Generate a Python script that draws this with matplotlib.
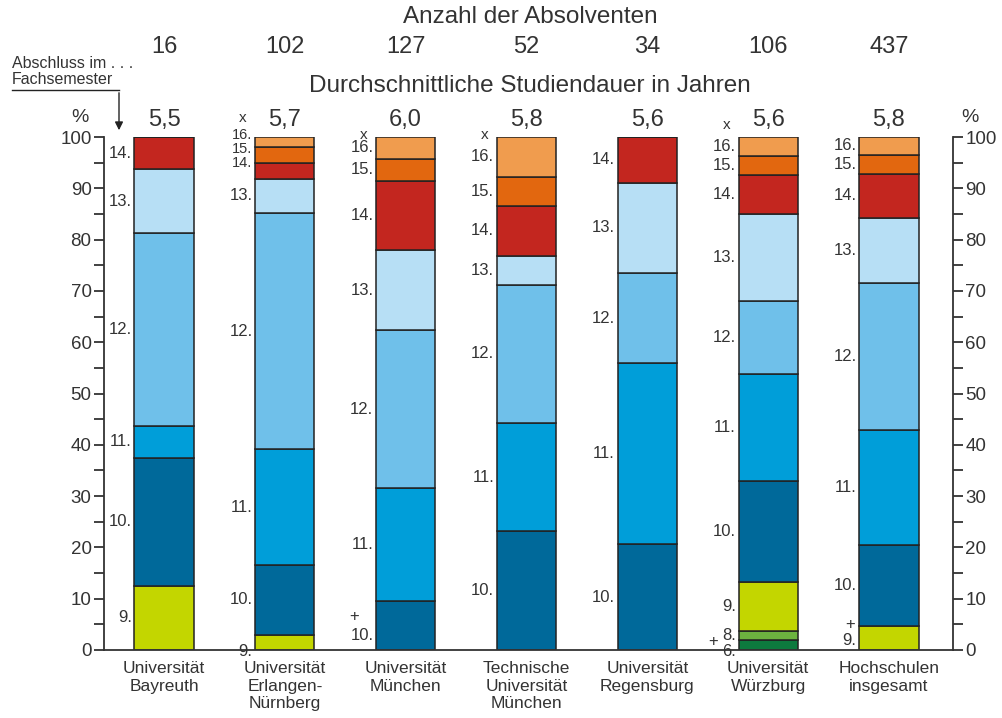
import numpy as np
import matplotlib.pyplot as plt
from matplotlib.transforms import blended_transform_factory

plt.rcParams['font.family'] = ['Liberation Sans', 'DejaVu Sans']

hochschulen = ['Universität\nBayreuth', 'Universität\nErlangen-\nNürnberg', 'Universität\nMünchen',
               'Technische\nUniversität\nMünchen', 'Universität\nRegensburg', 'Universität\nWürzburg',
               'Hochschulen\ninsgesamt']
absolventen = [16, 102, 127, 52, 34, 106, 437]
studiendauer = ['5,5', '5,7', '6,0', '5,8', '5,6', '5,6', '5,8']

# Anteil (%) der Absolventen nach Fachsemester des Abschlusses
semester = [6, 8, 9, 10, 11, 12, 13, 14, 15, 16]
sem6 = [0, 0, 0, 0, 0, 1.9, 0]
sem8 = [0, 0, 0, 0, 0, 1.9, 0]
sem9 = [12.5, 2.9, 0, 0, 0, 9.4, 4.7]
sem10 = [25.0, 13.7, 9.5, 23.1, 20.6, 19.8, 15.7]
sem11 = [6.25, 22.5, 22.0, 21.1, 35.3, 20.8, 22.4]
sem12 = [37.5, 46.1, 30.8, 27.0, 17.6, 14.2, 28.8]
sem13 = [12.5, 6.7, 15.7, 5.7, 17.6, 17.0, 12.6]
sem14 = [6.25, 3.1, 13.4, 9.6, 8.9, 7.5, 8.6]
sem15 = [0, 3.0, 4.4, 5.8, 0, 3.8, 3.7]
sem16 = [0, 2.0, 4.2, 7.7, 0, 3.7, 3.5]
anteile = [sem6, sem8, sem9, sem10, sem11, sem12, sem13, sem14, sem15, sem16]

farben = ['#0d7a3e', '#6cb33f', '#c3d600', '#00699a', '#009ed9',
          '#6fc0ea', '#b7dff5', '#c3261f', '#e2670f', '#f09c4e']

txt = '#333333'
W, H = 1002, 718
fig = plt.figure(figsize=(W / 100, H / 100), dpi=100)
ax = fig.add_axes([104 / W, 1 - 650 / H, (953 - 104) / W, (650 - 137) / H])

x = np.arange(len(hochschulen))
breite = 0.49
unten = np.zeros(len(x))
for sem, werte, farbe in zip(semester, anteile, farben):
    werte = np.array(werte, dtype=float)
    ax.bar(x, werte, breite, bottom=unten, color=farbe, edgecolor='#222222', linewidth=1.1)
    for i in range(len(x)):
        if werte[i] > 0:
            ymid = unten[i] + werte[i] / 2
            fs = 12
            # unterste Beschriftungen bei schmalen Segmenten etwas tiefer
            if unten[i] == 0 and werte[i] < 3:
                ymid = -0.2
            if i == 2 and sem == 10:
                ymid = 2.9
            if i == 6 and sem == 9:
                ymid = 1.9
            if i == 1 and sem >= 14:
                fs = 10.5
                ymid = {14: 95.0, 15: 97.7, 16: 100.4}[sem]
            ax.annotate(f'{sem}.', (x[i] - breite / 2, ymid), xytext=(-2, 0),
                        textcoords='offset points', ha='right', va='center',
                        fontsize=fs, color=txt, annotation_clip=False)
    unten += werte

# Sonderzeichen x und +
for i, yp in [(1, 103.7), (2, 100.4), (3, 100.4), (5, 102.4)]:
    ax.annotate('x', (x[i] - breite / 2, yp), xytext=(-6, 0),
                textcoords='offset points', ha='right', va='center', fontsize=11,
                color=txt, annotation_clip=False)
for i, yp, dx in [(2, 6.6, -12), (5, 1.6, -15), (6, 4.9, -3)]:
    ax.annotate('+', (x[i] - breite / 2, yp), xytext=(dx, 0),
                textcoords='offset points', ha='right', va='center', fontsize=12,
                color=txt, annotation_clip=False)

ax.set_xlim(-0.497, 6.53)
ax.set_ylim(0, 100)
ax.set_xticks(x, hochschulen, fontsize=12.5, color=txt, linespacing=1.2)
ax.tick_params(axis='x', length=0, pad=8)
ax.set_yticks(np.arange(0, 101, 10))
ax.set_yticks(np.arange(5, 100, 10), minor=True)
ax.tick_params(axis='y', which='both', direction='out', length=7, width=1.3,
               labelsize=13.5, labelcolor=txt, color='#333333', right=True, labelright=True, pad=2)
for s in ['left', 'right', 'bottom']:
    ax.spines[s].set_linewidth(1.3)
    ax.spines[s].set_color('#333333')
ax.spines['top'].set_visible(False)

trans = blended_transform_factory(ax.transData, fig.transFigure)
for i in range(len(x)):
    ax.text(x[i], 1 - 47 / H, str(absolventen[i]), transform=trans, ha='center', va='center',
            fontsize=17, color=txt)
    ax.text(x[i], 1 - 120 / H, studiendauer[i], transform=trans, ha='center', va='center',
            fontsize=17, color=txt)

fig.text(530 / W, 1 - 17 / H, 'Anzahl der Absolventen', ha='center', va='center', fontsize=17.5, color=txt)
fig.text(530 / W, 1 - 86 / H, 'Durchschnittliche Studiendauer in Jahren', ha='center', va='center',
         fontsize=17.5, color=txt)
fig.text(80 / W, 1 - 118 / H, '%', ha='center', va='center', fontsize=14, color=txt)
fig.text(970 / W, 1 - 118 / H, '%', ha='center', va='center', fontsize=14, color=txt)

fig.text(12 / W, 1 - 64 / H, 'Abschluss im . . .', ha='left', va='center', fontsize=11.5, color=txt)
fig.text(12 / W, 1 - 80 / H, 'Fachsemester', ha='left', va='center', fontsize=11.5, color=txt)
fig.add_artist(plt.Line2D([12 / W, 119 / W], [1 - 90 / H, 1 - 90 / H], color='#222222', linewidth=1))
ax.annotate('', xy=(119 / W, 1 - 133 / H), xytext=(119 / W, 1 - 90 / H),
            xycoords='figure fraction', textcoords='figure fraction',
            arrowprops=dict(arrowstyle='-|>', color='#222222', lw=1, mutation_scale=12))

fig.savefig('out.png', dpi=100)
